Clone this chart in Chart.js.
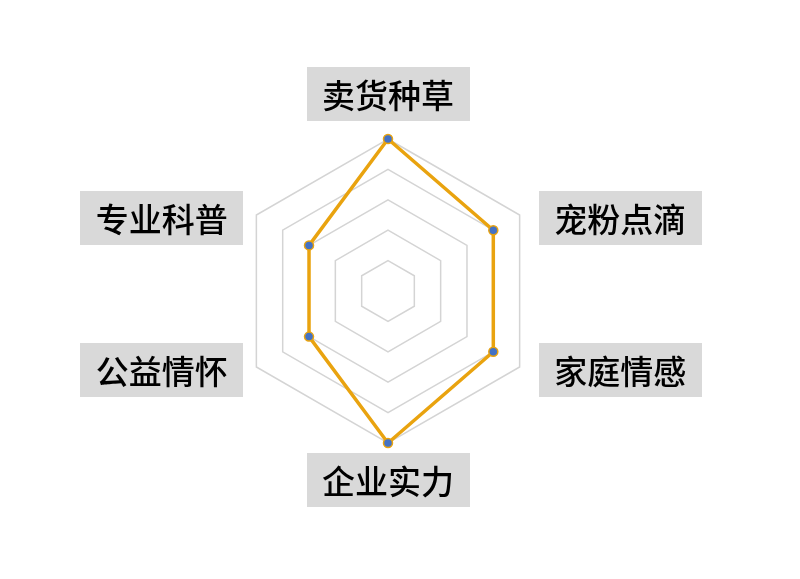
<!DOCTYPE html>
<html lang="zh">
<head>
    <meta charset="UTF-8">
    <title>雷达图</title>
    <script src="https://cdn.jsdelivr.net/npm/chart.js@4.4.1/dist/chart.umd.min.js"></script>
    <style>
        html, body { margin: 0; padding: 0; background: #fff; }
        .container { width: 800px; height: 579px; }
    </style>
</head>
<body>
<div class="container">
    <canvas id="myChart" width="800" height="579"></canvas>
</div>
<script>
    var labels = ['卖货种草', '宠粉点滴', '家庭情感', '企业实力', '公益情怀', '专业科普'];
    var values = [5, 4, 4, 5, 3, 3];
    var scaleMax = 5;

    // labels drawn in grey boxes next to each axis end
    var boxLabels = {
        id: 'boxLabels',
        afterDraw: function (chart) {
            var scale = chart.scales.r;
            var ctx = chart.ctx;
            var boxW = 163, boxH = 54;
            ctx.save();
            ctx.font = '500 33px "Noto Sans CJK SC", sans-serif';
            ctx.textAlign = 'center';
            ctx.textBaseline = 'middle';
            labels.forEach(function (text, i) {
                var p = scale.getPointPosition(i, scale.drawingArea);
                var cx, cy;
                if (Math.abs(p.x - scale.xCenter) < 2) {
                    cx = p.x;
                    cy = p.y < scale.yCenter ? p.y - 18 - boxH / 2 : p.y + 10 + boxH / 2;
                } else if (p.x > scale.xCenter) {
                    cx = p.x + 19 + boxW / 2;
                    cy = p.y + 3;
                } else {
                    cx = p.x - 13 - boxW / 2;
                    cy = p.y + 3;
                }
                ctx.fillStyle = '#D9D9D9';
                ctx.fillRect(Math.round(cx - boxW / 2), Math.round(cy - boxH / 2), boxW, boxH);
                ctx.fillStyle = '#000';
                ctx.fillText(text, cx, cy + 1);
            });
            ctx.restore();
        }
    };

    var ctx = document.querySelector('#myChart').getContext('2d');
    new Chart(ctx, {
        type: 'radar',
        data: {
            labels: labels,
            datasets: [{
                data: values,
                fill: false,
                borderColor: '#E9A30F',
                borderWidth: 3.5,
                pointBackgroundColor: '#4472C4',
                pointBorderColor: '#E9A30F',
                pointBorderWidth: 1.5,
                pointRadius: 4.5,
                tension: 0
            }]
        },
        options: {
            responsive: false,
            animation: false,
            layout: { padding: { top: 139, bottom: 135, left: 0, right: 24 } },
            plugins: { legend: { display: false }, tooltip: { enabled: false } },
            scales: {
                r: {
                    min: 0,
                    max: scaleMax,
                    ticks: { display: false, stepSize: 1 },
                    angleLines: { display: false },
                    grid: { color: '#D4D4D4', lineWidth: 1.5 },
                    pointLabels: { display: false }
                }
            }
        },
        plugins: [boxLabels]
    });
</script>
</body>
</html>
